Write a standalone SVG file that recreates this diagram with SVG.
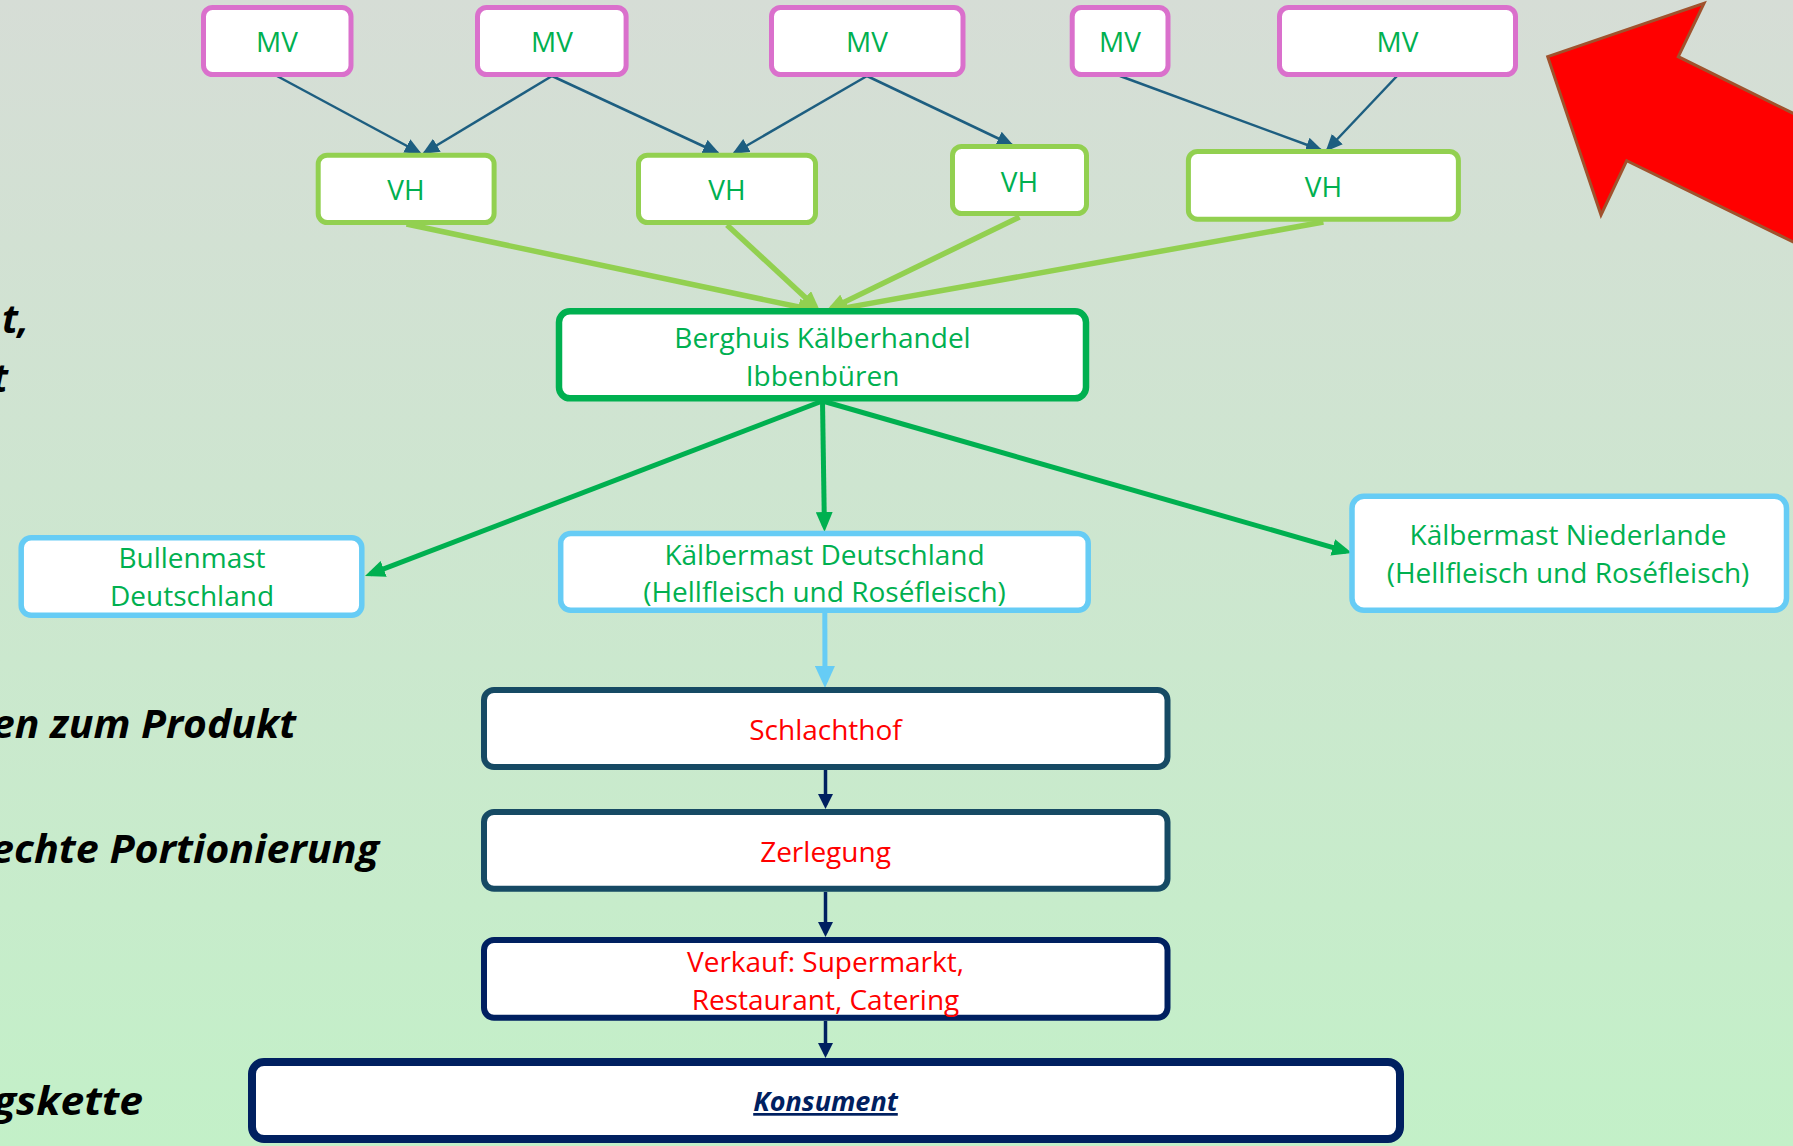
<svg xmlns="http://www.w3.org/2000/svg" width="1793" height="1146" viewBox="0 0 1793 1146">
<defs>
<linearGradient id="bg" x1="0" y1="0" x2="0" y2="1">
<stop offset="0" stop-color="#D6DDD6"/>
<stop offset="1" stop-color="#C3F0C8"/>
</linearGradient>
<marker id="aTeal" markerUnits="userSpaceOnUse" markerWidth="17" markerHeight="15" refX="15" refY="7.5" orient="auto"><path d="M0,0 L17,7.5 L0,15 z" fill="#1D5E80"/></marker>
<marker id="aLime" markerUnits="userSpaceOnUse" markerWidth="20" markerHeight="17" refX="14" refY="8.5" orient="auto"><path d="M0,0 L20,8.5 L0,17 z" fill="#92D050"/></marker>
<marker id="aGreen" markerUnits="userSpaceOnUse" markerWidth="20" markerHeight="17" refX="14" refY="8.5" orient="auto"><path d="M0,0 L20,8.5 L0,17 z" fill="#00B050"/></marker>
<marker id="aBlue" markerUnits="userSpaceOnUse" markerWidth="22" markerHeight="20" refX="16" refY="10" orient="auto"><path d="M0,0 L22,10 L0,20 z" fill="#66CCF5"/></marker>
<marker id="aNavy" markerUnits="userSpaceOnUse" markerWidth="15" markerHeight="15" refX="11" refY="7.5" orient="auto"><path d="M0,0 L15,7.5 L0,15 z" fill="#002060"/></marker>
</defs>
<style>
.box{fill:#FFFFFF}
.mv{stroke:#DA70CC;stroke-width:5}
.vh{stroke:#92D050;stroke-width:5}
.bh{stroke:#00B050;stroke-width:6.5}
.lb{stroke:#66CCF5;stroke-width:5.5}
.dt{stroke:#164A64;stroke-width:6}
.nv{stroke:#002060;stroke-width:6}
.nvk{stroke:#002060;stroke-width:8}
.t{font-family:"Open Sans","Liberation Sans",sans-serif;font-size:28px;text-anchor:middle}
.g{fill:#00B050}
.r{fill:#FF0000}
.side{font-family:"Open Sans","Liberation Sans",sans-serif;font-size:39px;font-weight:bold;font-style:italic;fill:#000000;text-anchor:end}
.cT{stroke:#1D5E80;stroke-width:2.5;fill:none;marker-end:url(#aTeal)}
.cL{stroke:#92D050;stroke-width:5.5;fill:none;marker-end:url(#aLime)}
.cG{stroke:#00B050;stroke-width:5;fill:none;marker-end:url(#aGreen)}
.cB{stroke:#66CCF5;stroke-width:5;fill:none;marker-end:url(#aBlue)}
.cN{stroke:#002060;stroke-width:3.5;fill:none;marker-end:url(#aNavy)}
</style>
<rect x="0" y="0" width="1793" height="1146" fill="url(#bg)"/>

<g id="side-texts">
<text class="side" x="29" y="333">t,</text>
<text class="side" x="8" y="392">t</text>
<text class="side" x="296" y="738" textLength="304" lengthAdjust="spacingAndGlyphs">en zum Produkt</text>
<text class="side" x="379" y="863" textLength="388" lengthAdjust="spacingAndGlyphs">echte Portionierung</text>
<text class="side" x="143" y="1115" textLength="150" lengthAdjust="spacingAndGlyphs">gskette</text>
</g>

<g id="red-arrow">
<polygon points="1704,3.3 1678.3,56.7 1900,166 1900,294 1626.7,160.7 1601,215 1547.7,56.7" fill="#FF0000" stroke="#A0522D" stroke-width="3"/>
</g>

<g id="connectors">
<line class="cT" x1="277" y1="76" x2="420" y2="153"/>
<line class="cT" x1="552" y1="76" x2="424" y2="153"/>
<line class="cT" x1="552" y1="76" x2="718" y2="153"/>
<line class="cT" x1="867" y1="76" x2="734" y2="153"/>
<line class="cT" x1="867" y1="76" x2="1012" y2="145"/>
<line class="cT" x1="1120" y1="76" x2="1321" y2="150"/>
<line class="cT" x1="1397" y1="76" x2="1327" y2="150"/>
<line class="cL" x1="406.5" y1="224" x2="812.1" y2="309.8"/>
<line class="cL" x1="727" y1="225" x2="815.6" y2="306.9"/>
<line class="cL" x1="1019.5" y1="217" x2="831.4" y2="308.4"/>
<line class="cL" x1="1323.4" y1="222" x2="833.9" y2="309.9"/>
<line class="cG" x1="822.5" y1="401" x2="370.6" y2="573.9"/>
<line class="cG" x1="822.5" y1="401" x2="824.4" y2="526"/>
<line class="cG" x1="822.5" y1="401" x2="1346.2" y2="551.3"/>
<line class="cB" x1="824.8" y1="613" x2="825" y2="682"/>
<line class="cN" x1="825.5" y1="770" x2="825.5" y2="805"/>
<line class="cN" x1="825.5" y1="892" x2="825.5" y2="933"/>
<line class="cN" x1="825.5" y1="1021" x2="825.5" y2="1054"/>
</g>

<g id="mv1"><rect class="box mv" x="203.5" y="7.5" width="147.5" height="67" rx="9"/><text class="t g" x="277" y="52">MV</text></g>
<g id="mv2"><rect class="box mv" x="477.5" y="7.5" width="148.6" height="67" rx="9"/><text class="t g" x="552" y="52">MV</text></g>
<g id="mv3"><rect class="box mv" x="771.5" y="7.5" width="191.5" height="67" rx="9"/><text class="t g" x="867" y="52">MV</text></g>
<g id="mv4"><rect class="box mv" x="1072.2" y="7.5" width="95.8" height="67" rx="9"/><text class="t g" x="1120" y="52">MV</text></g>
<g id="mv5"><rect class="box mv" x="1279.5" y="7.5" width="236" height="67" rx="9"/><text class="t g" x="1397.5" y="52">MV</text></g>

<g id="vh1"><rect class="box vh" x="318.2" y="155.2" width="175.9" height="67.3" rx="9"/><text class="t g" x="406" y="200">VH</text></g>
<g id="vh2"><rect class="box vh" x="638.5" y="155.2" width="177" height="67.3" rx="9"/><text class="t g" x="727" y="200">VH</text></g>
<g id="vh3"><rect class="box vh" x="952.5" y="146.5" width="134" height="67" rx="9"/><text class="t g" x="1019.5" y="192">VH</text></g>
<g id="vh4"><rect class="box vh" x="1188.4" y="151.5" width="270" height="67.7" rx="9"/><text class="t g" x="1323.4" y="197">VH</text></g>

<g id="berghuis"><rect class="box bh" x="559" y="311.3" width="527" height="87" rx="11"/><text class="t g" x="822.5" y="348">Berghuis Kälberhandel</text><text class="t g" x="822.5" y="386">Ibbenbüren</text></g>

<g id="bullenmast"><rect class="box lb" x="21.2" y="537.8" width="340.6" height="77.5" rx="10"/><text class="t g" x="192" y="568">Bullenmast</text><text class="t g" x="192" y="606">Deutschland</text></g>

<g id="kaelbermast-de"><rect class="box lb" x="560.7" y="533.4" width="527.5" height="76.9" rx="10"/><text class="t g" x="824.5" y="565">Kälbermast Deutschland</text><text class="t g" x="824.5" y="602">(Hellfleisch und Roséfleisch)</text></g>

<g id="kaelbermast-nl"><rect class="box lb" x="1352" y="496.3" width="434.5" height="114" rx="12"/><text class="t g" x="1568" y="545">Kälbermast Niederlande</text><text class="t g" x="1568" y="583">(Hellfleisch und Roséfleisch)</text></g>

<g id="schlachthof"><rect class="box dt" x="484" y="690" width="683.5" height="77" rx="10"/><text class="t r" x="825.5" y="740">Schlachthof</text></g>

<g id="zerlegung"><rect class="box dt" x="484" y="812" width="683.5" height="76.7" rx="10"/><text class="t r" x="825.5" y="862">Zerlegung</text></g>

<g id="verkauf"><rect class="box nv" x="484" y="940" width="683.5" height="77.7" rx="10"/><text class="t r" x="825.5" y="972">Verkauf: Supermarkt,</text><text class="t r" x="825.5" y="1010">Restaurant, Catering</text></g>

<g id="konsument"><rect class="box nvk" x="252" y="1062" width="1148" height="77" rx="12"/><text x="825.5" y="1111" font-family="Open Sans, Liberation Sans, sans-serif" font-size="27" font-weight="bold" font-style="italic" fill="#002060" text-anchor="middle" text-decoration="underline">Konsument</text></g>
</svg>
